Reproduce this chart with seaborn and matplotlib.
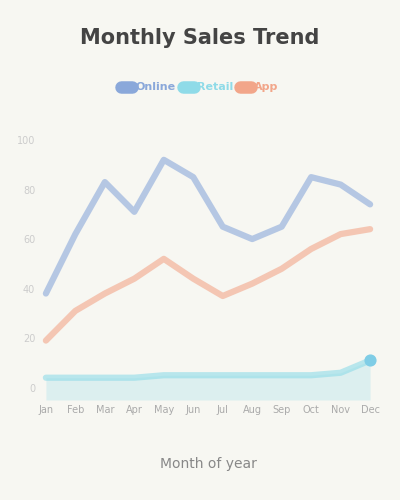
import pandas as pd
import seaborn as sns
import matplotlib.pyplot as plt

months = ["Jan", "Feb", "Mar", "Apr", "May", "Jun",
          "Jul", "Aug", "Sep", "Oct", "Nov", "Dec"]
series_a = [38, 62, 83, 71, 92, 85, 65, 60, 65, 85, 82, 74]
series_b = [4, 4, 4, 4, 5, 5, 5, 5, 5, 5, 6, 11]
series_c = [19, 31, 38, 44, 52, 44, 37, 42, 48, 56, 62, 64]
names = ["Online", "Retail", "App"]
colors = ["#8aa8da", "#8fdbe8", "#f2a68a"]

rows = []
for name, vals in zip(names, [series_a, series_b, series_c]):
    for i, v in enumerate(vals):
        rows.append({"month": i, "value": v, "series": name})
df = pd.DataFrame(rows)

sns.set_theme(style="white")
plt.rcParams["font.family"] = ["DejaVu Sans"]
bg = "#f7f7f2"

fig, ax = plt.subplots(figsize=(4, 5), dpi=100)
fig.patch.set_facecolor(bg)
ax.set_facecolor(bg)

sns.lineplot(data=df, x="month", y="value", hue="series", palette=colors,
             linewidth=4.5, alpha=0.6, ax=ax, legend=False)
ax.fill_between(range(12), series_b, -5, color=colors[1], alpha=0.25, lw=0)
ax.scatter([11], [series_b[-1]], s=60, color="#7fcde6", zorder=5)

ax.set_xlim(-0.2, 11.2)
ax.set_ylim(-5, 100)
ax.set_xticks(range(12))
ax.set_xticklabels(months, fontsize=7, color="#aaaaaa")
ax.tick_params(axis="y", labelsize=7, colors="#cccccc", length=0)
ax.tick_params(axis="x", length=0)
for s in ax.spines.values():
    s.set_visible(False)
ax.set_ylabel("")
ax.set_xlabel("Month of year", fontsize=10, color="#888888", labelpad=30)

handles = [plt.Line2D([0], [0], color=c, lw=9) for c in colors]
leg = fig.legend(handles, names, loc="upper center", bbox_to_anchor=(0.5, 0.855),
                 ncol=3, frameon=False, fontsize=8, handlelength=1.0,
                 handletextpad=0.3, columnspacing=0.6, labelcolor="linecolor")
for t in leg.get_texts():
    t.set_fontweight("bold")
fig.suptitle("Monthly Sales Trend", fontsize=15, fontweight="bold",
             color="#444444", y=0.945)

fig.subplots_adjust(left=0.1, right=0.94, top=0.72, bottom=0.2)
fig.savefig("out.png", facecolor=bg)
